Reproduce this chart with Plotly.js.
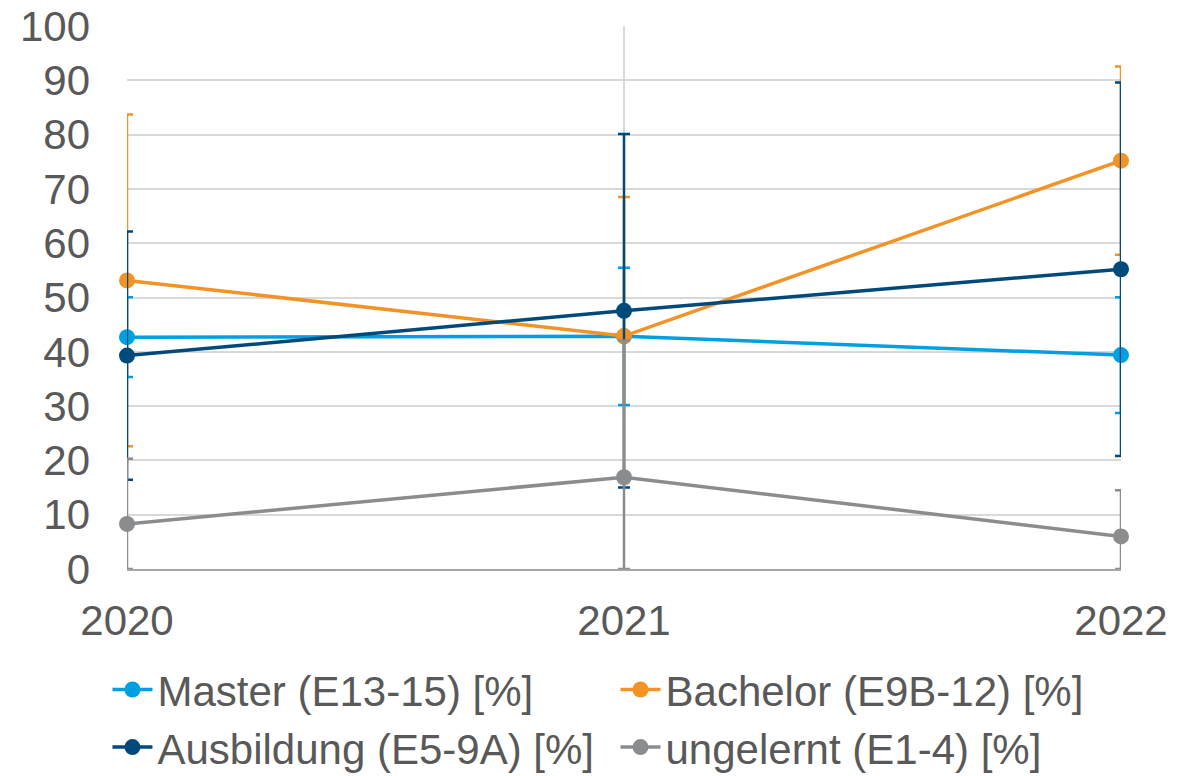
<!DOCTYPE html>
<html>
<head>
<meta charset="utf-8">
<script src="https://cdn.plot.ly/plotly-3.0.1.min.js"></script>
<style>html,body{margin:0;padding:0;background:#fff;}#chart{width:1194px;height:776px;}</style>
</head>
<body>
<div id="chart"></div>
<script>
const years = ["2020", "2021", "2022"];
const seriesNames = ["Master (E13-15) [%]", "Bachelor (E9B-12) [%]", "Ausbildung (E5-9A) [%]", "ungelernt (E1-4) [%]"];
const master = [42.7, 42.85, 39.4];
const masterErr = [7.35, 12.65, 10.65];
const bachelor = [53.15, 42.9, 75.2];
const bachelorErr = [30.55, 25.6, 17.35];
const ausbildung = [39.3, 47.55, 55.2];
const ausbildungErr = [22.85, 32.55, 34.4];
const ungelernt = [8.3, 16.9, 6.0];
const ungelerntErr = [12.0, 25.2, 8.5];
const colors = ["#009FE3", "#F39325", "#00497B", "#8A8C8E"];
const legendIds = ["legend", "legend2", "legend", "legend2"];

const values = [master, bachelor, ausbildung, ungelernt];
const errs = [masterErr, bachelorErr, ausbildungErr, ungelerntErr];

const traces = values.map((v, i) => ({
  type: "scatter",
  mode: "lines+markers",
  name: seriesNames[i],
  legend: legendIds[i],
  x: years,
  y: v,
  cliponaxis: false,
  line: {color: colors[i], width: 3.5},
  marker: {color: colors[i], size: 16},
  error_y: {
    type: "data",
    symmetric: false,
    array: errs[i],
    // bars are cut at the axis floor (0), as in the original
    arrayminus: errs[i].map((e, k) => Math.min(e, v[k])),
    color: colors[i],
    thickness: 2.5,
    width: 6
  }
}));

const font = {family: "Liberation Sans, Arial, sans-serif", size: 42, color: "#595959"};

const legendBase = {
  orientation: "h",
  xref: "container",
  yref: "container",
  xanchor: "left",
  y: 0.155,
  yanchor: "top",
  font: font,
  itemwidth: 40,
  entrywidth: 560,
  entrywidthmode: "pixels",
  tracegroupgap: 0,
  bgcolor: "rgba(0,0,0,0)"
};

const layout = {
  width: 1194,
  height: 776,
  paper_bgcolor: "#ffffff",
  plot_bgcolor: "#ffffff",
  margin: {l: 127, r: 73, t: 26, b: 207},
  font: font,
  showlegend: true,
  legend: Object.assign({}, legendBase, {x: 0.09}),
  legend2: Object.assign({}, legendBase, {x: 0.5155}),
  xaxis: {
    type: "category",
    range: [0, 2],
    showgrid: true,
    gridcolor: "#d9d9d9",
    gridwidth: 2,
    showline: true,
    linecolor: "#a6a6a6",
    linewidth: 2,
    ticks: "",
    ticklabelstandoff: 14,
    tickfont: font,
    zeroline: false
  },
  yaxis: {
    range: [0, 100],
    dtick: 10,
    tick0: 0,
    showgrid: true,
    gridcolor: "#d9d9d9",
    gridwidth: 2,
    showline: false,
    zeroline: false,
    ticks: "",
    ticklabelstandoff: 36,
    tickfont: font
  }
};

Plotly.newPlot("chart", traces, layout, {displayModeBar: false, staticPlot: true});
</script>
</body>
</html>
